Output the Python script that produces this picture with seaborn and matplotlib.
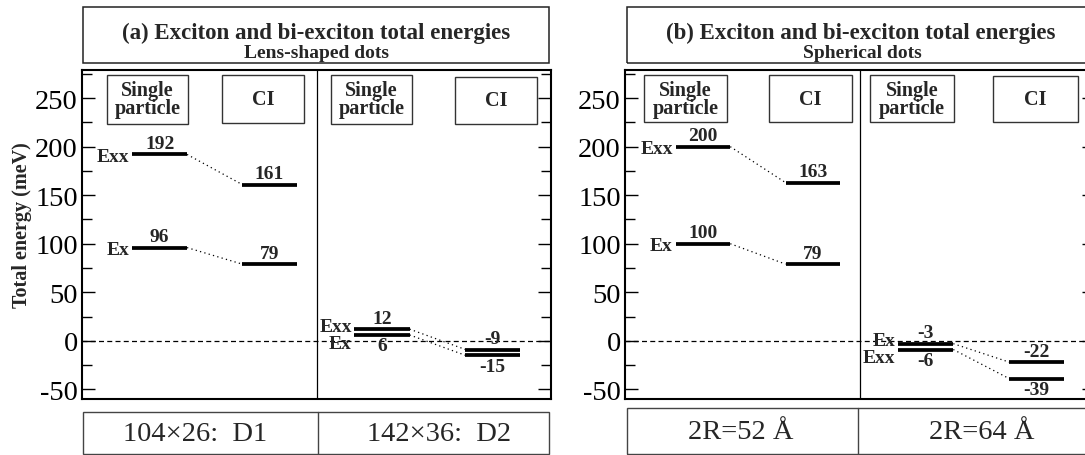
import numpy as np
import pandas as pd
import matplotlib
matplotlib.use("Agg")
import matplotlib.pyplot as plt
from matplotlib.patches import Rectangle
from matplotlib.lines import Line2D
from matplotlib.ticker import MultipleLocator
import seaborn as sns

# ---------------- data ----------------
panel_titles = ["(a) Exciton and bi-exciton total energies",
                "(b) Exciton and bi-exciton total energies"]
panel_subtitles = ["Lens-shaped dots", "Spherical dots"]
dot_labels_a = ["104×26:  D1", "142×36:  D2"]
dot_labels_b = ["2R=52 Å", "2R=64 Å"]
stage_labels = ["Single\nparticle", "CI"]
species_names = ["Exx", "Ex"]

# panel (a): lens-shaped dots D1, D2  (meV)
a_exx_sp = [192, 12]
a_exx_ci = [161, -9]
a_ex_sp = [96, 6]
a_ex_ci = [79, -15]
# panel (b): spherical dots 2R=52 Å, 2R=64 Å  (meV)
b_exx_sp = [200, -6]
b_exx_ci = [163, -39]
b_ex_sp = [100, -3]
b_ex_ci = [79, -22]

rows = []
for p, (exx_sp, exx_ci, ex_sp, ex_ci) in enumerate(
        [(a_exx_sp, a_exx_ci, a_ex_sp, a_ex_ci),
         (b_exx_sp, b_exx_ci, b_ex_sp, b_ex_ci)]):
    for g in range(2):
        rows.append(dict(panel=p, group=g, species="Exx", stage="SP", E=exx_sp[g]))
        rows.append(dict(panel=p, group=g, species="Exx", stage="CI", E=exx_ci[g]))
        rows.append(dict(panel=p, group=g, species="Ex", stage="SP", E=ex_sp[g]))
        rows.append(dict(panel=p, group=g, species="Ex", stage="CI", E=ex_ci[g]))
levels = pd.DataFrame(rows)

# ---------------- layout ----------------
W, H = 1085, 456
seg_x = {("SP", 0): (0.215, 0.448), ("CI", 0): (0.683, 0.916),
         ("SP", 1): (1.162, 1.397), ("CI", 1): (1.635, 1.866)}
MIN_GAP = 6.0
SPLIT_GAP = 40.0

# drawn position & label placement derived from the data
levels["Ed"] = levels["E"].astype(float)
levels["pos"] = "above"
levels["spec_dy"] = 0.0
for (p, g, st), sub in levels.groupby(["panel", "group", "stage"]):
    hi = sub["E"].idxmax()
    lo = sub["E"].idxmin()
    gap = levels.loc[hi, "E"] - levels.loc[lo, "E"]
    if gap < MIN_GAP:
        levels.loc[lo, "Ed"] = levels.loc[hi, "E"] - MIN_GAP
    if gap < SPLIT_GAP:
        levels.loc[lo, "pos"] = "below"
        levels.loc[hi, "spec_dy"] = 3.5
        levels.loc[lo, "spec_dy"] = -4.5

sns.set_theme(style="ticks")
plt.rcParams["font.family"] = ["Liberation Serif", "DejaVu Serif"]
plt.rcParams["axes.unicode_minus"] = False
plt.rcParams["axes.linewidth"] = 1.5

fig = plt.figure(figsize=(W / 100, H / 100), dpi=100)

ax_specs = [(82, 551), (625, 1095)]
axes = []
for p, (xl, xr) in enumerate(ax_specs):
    ax = fig.add_axes([xl / W, 1 - 400 / H, (xr - xl) / W, 329 / H])
    axes.append(ax)
    sub = levels[levels.panel == p]

    # level segments
    seg_rows = []
    for i, r in sub.iterrows():
        x0, x1 = seg_x[(r.stage, r.group)]
        seg_rows.append(dict(uid=i, x=x0, y=r.Ed))
        seg_rows.append(dict(uid=i, x=x1, y=r.Ed))
    seg_df = pd.DataFrame(seg_rows)
    sns.lineplot(data=seg_df, x="x", y="y", units="uid", estimator=None,
                 sort=False, color="black", linewidth=2.7, ax=ax, legend=False,
                 solid_capstyle="butt")

    # dotted connectors SP -> CI
    con_rows = []
    for (g, sp), s2 in sub.groupby(["group", "species"]):
        esp = s2[s2.stage == "SP"].iloc[0]
        eci = s2[s2.stage == "CI"].iloc[0]
        uid = f"{g}{sp}"
        con_rows.append(dict(uid=uid, x=seg_x[("SP", g)][1], y=esp.Ed))
        con_rows.append(dict(uid=uid, x=seg_x[("CI", g)][0], y=eci.Ed))
    con_df = pd.DataFrame(con_rows)
    sns.lineplot(data=con_df, x="x", y="y", units="uid", estimator=None,
                 sort=False, color="black", linewidth=0.9,
                 linestyle=(0, (1, 2.6)), ax=ax, legend=False)

    # value labels and species labels
    for i, r in sub.iterrows():
        x0, x1 = seg_x[(r.stage, r.group)]
        xc = 0.5 * (x0 + x1)
        if r.pos == "above":
            ax.annotate(str(r.E), (xc, r.Ed), xytext=(0, 1.6),
                        textcoords="offset points", ha="center", va="bottom",
                        fontsize=14, fontweight="bold")
        else:
            ax.annotate(str(r.E), (xc, r.Ed), xytext=(0, -1.6),
                        textcoords="offset points", ha="center", va="top",
                        fontsize=14, fontweight="bold")
        if r.stage == "SP":
            ax.annotate(r.species, (x0, r.Ed), xytext=(-2.0, r.spec_dy),
                        textcoords="offset points", ha="right",
                        va="center_baseline", fontsize=14, fontweight="bold")

    ax.axhline(0, color="black", lw=0.9, ls=(0, (4.0, 2.6)))
    ax.axvline(1.0, color="black", lw=0.9)

    ax.set_xlim(0, 2)
    ax.set_ylim(-60, 279)
    ax.yaxis.set_major_locator(MultipleLocator(50))
    ax.yaxis.set_minor_locator(MultipleLocator(25))
    ax.tick_params(axis="y", which="both", direction="in", left=True,
                   right=True, labelleft=True, labelright=False, pad=3,
                   colors="black")
    ax.tick_params(axis="y", which="major", length=9.2, width=1.0,
                   labelsize=20.5)
    ax.tick_params(axis="y", which="minor", length=7.0, width=1.0)
    ax.tick_params(axis="x", bottom=False, labelbottom=False)
    ax.set_xlabel("")
    ax.set_ylabel("")
    for s in ax.spines.values():
        s.set_visible(True)
        s.set_color("black")
        s.set_linewidth(1.5)

# stage label boxes (x0, x1, ytop, ybot) in data units
box_specs = [
    [(0.107, 0.452, 274, 223.5, 0), (0.597, 0.947, 274, 224.5, 1),
     (1.062, 1.407, 274, 223.5, 0), (1.590, 1.940, 272, 223.5, 1)],
    [(0.081, 0.436, 274, 225, 0), (0.612, 0.966, 274, 225, 1),
     (1.044, 1.399, 274, 225, 0), (1.566, 1.928, 273, 225, 1)],
]
for ax, specs in zip(axes, box_specs):
    for x0, x1, yt, yb, k in specs:
        ax.add_patch(Rectangle((x0, yb), x1 - x0, yt - yb, fill=False,
                               lw=1.0, ec="#333333", zorder=3))
        ax.text(0.5 * (x0 + x1), 0.5 * (yt + yb), stage_labels[k],
                ha="center", va="center", fontsize=14.5, fontweight="bold",
                linespacing=0.87, zorder=4)

# title boxes
title_boxes = [(83, 549, 316), (627, 1100, 861)]
for (l, r, cx), t, st in zip(title_boxes, panel_titles, panel_subtitles):
    fig.add_artist(Rectangle((l / W, 1 - 64 / H), (r - l) / W, 56 / H,
                             transform=fig.transFigure, fill=False,
                             lw=1.1, ec="#222222"))
    fig.text(cx / W, 1 - 33 / H, t, ha="center", va="center",
             fontsize=16.5, fontweight="bold")
    fig.text((cx + 1) / W, 1 - 54 / H, st, ha="center", va="center",
             fontsize=14, fontweight="bold")

# bottom dot-size boxes: (left, divider, right, top, label centres, labels)
bottom_boxes = [(83, 318, 549, 413, (195, 439), dot_labels_a),
                (627, 858, 1100, 409, (741, 982), dot_labels_b)]
for l, m, r, top, cxs, labs in bottom_boxes:
    fig.add_artist(Rectangle((l / W, 1 - 455 / H), (r - l) / W, (455 - top) / H,
                             transform=fig.transFigure, fill=False,
                             lw=1.0, ec="#444444"))
    fig.add_artist(Line2D([m / W, m / W], [1 - 455 / H, 1 - top / H],
                          transform=fig.transFigure, lw=1.0, color="#444444"))
    ycen = 1 - (0.5 * (top + 455) + 1) / H
    for cx, lab in zip(cxs, labs):
        fig.text(cx / W, ycen, lab, ha="center", va="center", fontsize=20.5)

fig.text(22 / W, 1 - 225 / H, "Total energy (meV)", rotation=90,
         ha="center", va="center", fontsize=14.5, fontweight="bold")

fig.savefig("out.png", dpi=100)
